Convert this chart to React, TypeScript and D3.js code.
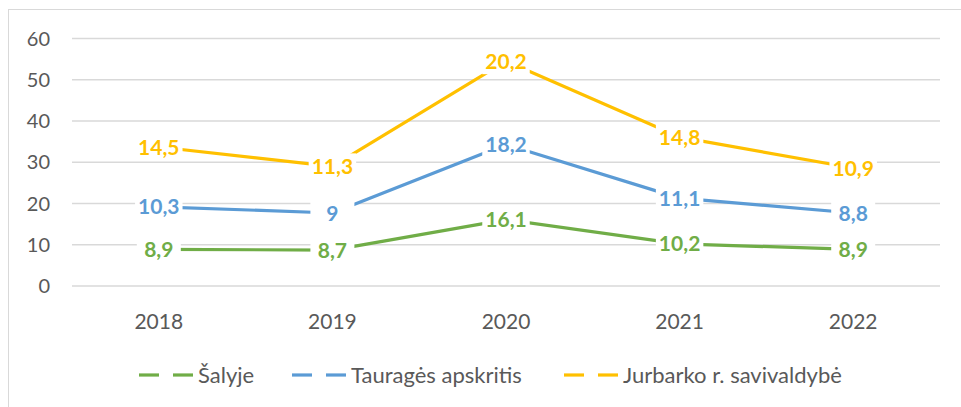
import React, { useEffect, useRef } from "react";
import * as d3 from "d3";

const categories = ["2018", "2019", "2020", "2021", "2022"];
const salyje = [8.9, 8.7, 16.1, 10.2, 8.9];
const taurages = [10.3, 9, 18.2, 11.1, 8.8];
const jurbarko = [14.5, 11.3, 20.2, 14.8, 10.9];
const seriesNames = ["Šalyje", "Tauragės apskritis", "Jurbarko r. savivaldybė"];
const seriesColors = ["#70AD47", "#5B9BD5", "#FFC000"];
const yTicks = [0, 10, 20, 30, 40, 50, 60];

const W = 961;
const H = 407;
const FONT = "Lato, 'Open Sans', sans-serif";

export default function App() {
  const ref = useRef<SVGSVGElement>(null);

  useEffect(() => {
    const svg = d3.select(ref.current);
    svg.selectAll("*").remove();

    // chart border
    svg.append("rect")
      .attr("x", 8.5).attr("y", 9.5)
      .attr("width", W + 20).attr("height", H + 20)
      .attr("fill", "white").attr("stroke", "#D9D9D9").attr("stroke-width", 1);

    const x = d3.scaleBand().domain(categories).range([72, 940]);
    const y = d3.scaleLinear().domain([0, 60]).range([286, 38.5]);
    const cx = (c: string) => (x(c) as number) + x.bandwidth() / 2;

    // gridlines
    svg.append("g").selectAll("line").data(yTicks).join("line")
      .attr("x1", 72).attr("x2", 940)
      .attr("y1", (d) => y(d)).attr("y2", (d) => y(d))
      .attr("stroke", "#D9D9D9").attr("stroke-width", 1.3);

    // y tick labels
    svg.append("g").selectAll("text").data(yTicks).join("text")
      .attr("x", 50).attr("y", (d) => y(d))
      .attr("dy", "0.36em")
      .attr("text-anchor", "end")
      .attr("font-family", FONT).attr("font-size", 20)
      .attr("fill", "#595959")
      .text((d) => String(d));

    // x labels
    svg.append("g").selectAll("text").data(categories).join("text")
      .attr("x", (d) => cx(d)).attr("y", 321)
      .attr("dy", "0.36em")
      .attr("text-anchor", "middle")
      .attr("font-family", FONT).attr("font-size", 21)
      .attr("fill", "#595959")
      .text((d) => d);

    // stacked values
    const raw = [salyje, taurages, jurbarko];
    const stacked: number[][] = [];
    raw.forEach((arr, i) => {
      stacked.push(arr.map((v, j) => v + (i > 0 ? stacked[i - 1][j] : 0)));
    });

    const line = d3.line<number>()
      .x((_, j) => cx(categories[j]))
      .y((d) => y(d));

    const gLines = svg.append("g");
    stacked.forEach((s, i) => {
      gLines.append("path")
        .attr("d", line(s) as string)
        .attr("fill", "none")
        .attr("stroke", seriesColors[i])
        .attr("stroke-width", 3.2)
        .attr("stroke-linecap", "round")
        .attr("stroke-linejoin", "round");
    });

    // labels
    const gLab = svg.append("g");
    stacked.forEach((s, i) => {
      s.forEach((v, j) => {
        const g = gLab.append("g")
          .attr("transform", `translate(${cx(categories[j])},${y(v)})`);
        const rect = g.append("rect").attr("fill", "white");
        const t = g.append("text")
          .attr("text-anchor", "middle")
          .attr("dy", "0.36em")
          .attr("font-family", FONT)
          .attr("font-size", 21)
          .attr("font-weight", "bold")
          .attr("fill", seriesColors[i])
          .text(String(raw[i][j]).replace(".", ","));
        const bw = (t.node() as SVGTextElement).getComputedTextLength();
        const w = Math.max(bw + 6, 44);
        const h = 26;
        rect.attr("x", -w / 2).attr("y", -h / 2).attr("width", w).attr("height", h);
      });
    });

    // legend
    const legendX = [139, 292, 564];
    const gLeg = svg.append("g");
    seriesNames.forEach((name, i) => {
      const lx = legendX[i];
      const ly = 375;
      const gi = gLeg.append("g");
      gi.append("line").attr("x1", lx).attr("x2", lx + 20).attr("y1", ly).attr("y2", ly)
        .attr("stroke", seriesColors[i]).attr("stroke-width", 3.2);
      gi.append("line").attr("x1", lx + 34).attr("x2", lx + 54).attr("y1", ly).attr("y2", ly)
        .attr("stroke", seriesColors[i]).attr("stroke-width", 3.2);
      gi.append("text")
        .attr("x", lx + 59).attr("y", ly).attr("dy", "0.36em")
        .attr("font-family", FONT).attr("font-size", 22)
        .attr("fill", "#595959")
        .text(name);
    });
  }, []);

  return (
    <svg
      ref={ref}
      width={W}
      height={H}
      style={{ position: "absolute", left: 0, top: 0, background: "white" }}
    />
  );
}
